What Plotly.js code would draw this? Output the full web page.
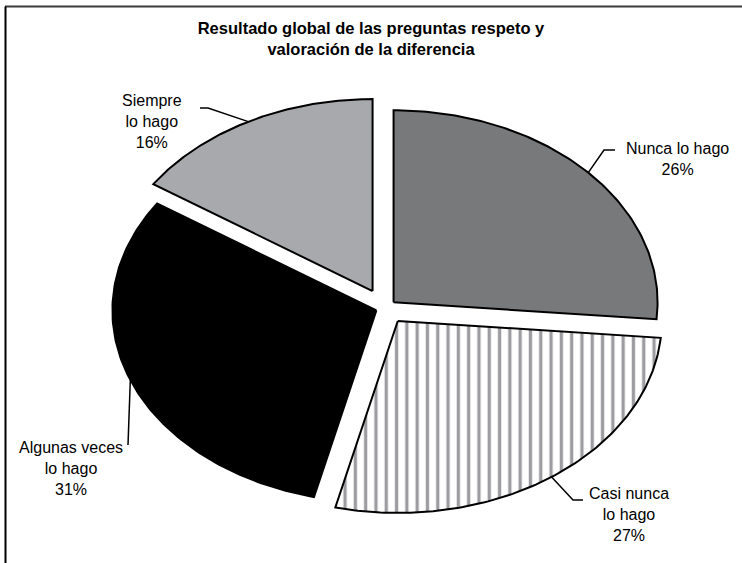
<!DOCTYPE html>
<html>
<head>
<meta charset="utf-8">
<script src="https://cdn.plot.ly/plotly-3.0.1.min.js"></script>
<style>
  html, body { margin: 0; padding: 0; background: #ffffff; }
  #chart { width: 742px; height: 563px; }
</style>
</head>
<body>
<div id="chart"></div>
<script>
// ---- data ----
const categories = ['Nunca lo hago', 'Casi nunca lo hago', 'Algunas veces lo hago', 'Siempre lo hago'];
const labelNames = ['Nunca lo hago', 'Casi nunca<br>lo hago', 'Algunas veces<br>lo hago', 'Siempre<br>lo hago'];
const values = [26.4, 27.4, 30.6, 15.6];
const fillColors = ['#78797b', '#ffffff', '#000000', '#a8a9ac'];
const pulls = [0.044, 0.083, 0.035, 0.10];
const chartTitle = 'Resultado global de las preguntas respeto y<br>valoración de la diferencia';

// ---- layout geometry (pixels) ----
const W = 742, H = 563;
const CX = 385, CY = 308, RA = 264, RB = 192;
const px2x = p => (p - CX) / RA;
const px2y = p => (CY - p) / RB;

// label anchors (pixel) and leader elbows
const labelPos = [[677, 159], [629, 514], [71, 468], [152, 121]];
const leaderPts = [
  [[604, 150], [615, 150]],
  [[573, 500], [583, 500]],
  [[128, 445]],
  [[208, 108], [200, 108]]
];

const total = values.reduce((a, b) => a + b, 0);
const rad = d => d * Math.PI / 180;
const traces = [];
const annotations = [];
let cum = 0;
values.forEach((v, i) => {
  const a0 = cum / total * 360;
  cum += v;
  const a1 = cum / total * 360;
  const am = (a0 + a1) / 2;
  const ox = pulls[i] * Math.sin(rad(am));
  const oy = pulls[i] * Math.cos(rad(am));
  const xs = [ox], ys = [oy];
  const n = 120;
  for (let k = 0; k <= n; k++) {
    const t = a0 + (a1 - a0) * k / n;
    xs.push(ox + Math.sin(rad(t)));
    ys.push(oy + Math.cos(rad(t)));
  }
  xs.push(ox); ys.push(oy);
  const tr = {
    type: 'scatter', mode: 'lines', x: xs, y: ys,
    fill: 'toself', fillcolor: fillColors[i],
    line: { color: '#000000', width: 2 },
    hoverinfo: 'skip', showlegend: false
  };
  if (i === 1) {
    tr.fillpattern = { shape: '|', size: 10.3, solidity: 0.32, fgcolor: '#9c9ca1', bgcolor: '#ffffff' };
  }
  traces.push(tr);

  // leader line from arc mid point
  const lx = [ox + Math.sin(rad(am))], ly = [oy + Math.cos(rad(am))];
  leaderPts[i].forEach(p => { lx.push(px2x(p[0])); ly.push(px2y(p[1])); });
  traces.push({
    type: 'scatter', mode: 'lines', x: lx, y: ly,
    line: { color: '#000000', width: 1.5 },
    hoverinfo: 'skip', showlegend: false
  });

  const pct = Math.round(v / total * 100) + '%';
  annotations.push({
    xref: 'x', yref: 'y',
    x: px2x(labelPos[i][0]), y: px2y(labelPos[i][1]),
    text: labelNames[i] + '<br>' + pct,
    showarrow: false, xanchor: 'center', yanchor: 'middle', align: 'center',
    font: { family: 'Liberation Sans, Arial, sans-serif', size: 16, color: '#000000' }
  });
});

const layout = {
  width: W, height: H,
  margin: { l: 0, r: 0, t: 0, b: 0 },
  paper_bgcolor: '#ffffff', plot_bgcolor: '#ffffff',
  showlegend: false,
  title: {
    text: '<b>' + chartTitle + '</b>',
    x: 0.5, xanchor: 'center', y: 1 - 34 / H, yanchor: 'middle',
    font: { family: 'Liberation Sans, Arial, sans-serif', size: 16.5, color: '#000000' }
  },
  xaxis: { range: [px2x(0), px2x(W)], visible: false, fixedrange: true },
  yaxis: { range: [px2y(H), px2y(0)], visible: false, fixedrange: true },
  annotations: annotations,
  shapes: [
    { type: 'line', xref: 'paper', yref: 'paper', x0: 5 / W, x1: 1.01, y0: 1 - 6.5 / H, y1: 1 - 6.5 / H,
      line: { color: '#3c3c3c', width: 2 } },
    { type: 'line', xref: 'paper', yref: 'paper', x0: 5.5 / W, x1: 5.5 / W, y0: -0.01, y1: 1 - 6.5 / H,
      line: { color: '#000000', width: 2 } }
  ]
};

Plotly.newPlot('chart', traces, layout, { displayModeBar: false, staticPlot: true });
</script>
</body>
</html>
